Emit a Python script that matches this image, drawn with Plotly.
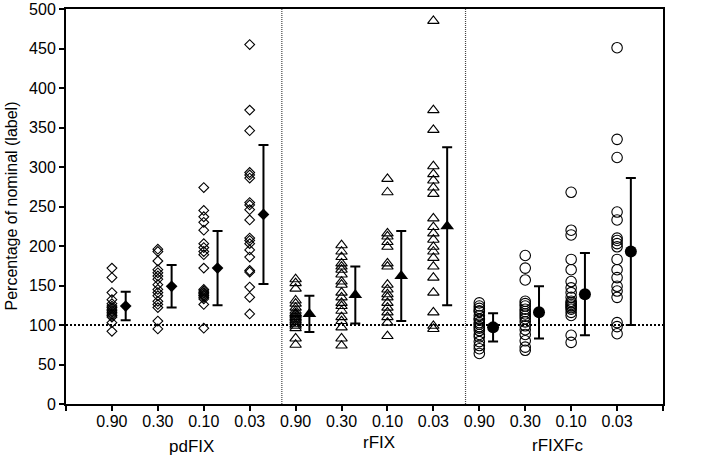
import plotly.graph_objects as go

products = ["pdFIX", "rFIX", "rFIXFc"]
concentrations = ["0.90", "0.30", "0.10", "0.03"]
unit_label = "(IU/mL)"
y_title = "Percentage of nominal (label)"
y_ticks = [0, 50, 100, 150, 200, 250, 300, 350, 400, 450, 500]
nominal = 100

# individual laboratory results (% of nominal), one list per concentration
pdfix_values = [
    [172, 160, 141, 132, 127, 124, 122, 120, 118, 116, 114, 112, 110, 103, 92],
    [196, 193, 181, 170, 166, 162, 158, 151, 145, 141, 137, 130, 126, 122, 105, 95],
    [274, 245, 237, 230, 220, 203, 198, 193, 189, 172, 145, 143, 141, 140, 138, 137, 135, 133, 126, 96],
    [455, 372, 346, 293, 290, 286, 255, 252, 246, 233, 210, 207, 203, 195, 186, 169, 167, 148, 135, 114],
]
rfix_values = [
    [158, 153, 146, 131, 127, 122, 118, 115, 114, 112, 110, 108, 106, 104, 101, 99, 96, 83, 75],
    [201, 193, 186, 178, 174, 170, 164, 155, 151, 141, 135, 128, 124, 118, 110, 105, 97, 83, 74],
    [285, 268, 216, 212, 205, 199, 178, 174, 151, 145, 139, 135, 128, 122, 116, 110, 103, 86],
    [485, 372, 347, 301, 291, 283, 274, 266, 235, 224, 216, 208, 199, 193, 185, 174, 160, 141, 116, 99, 95],
]
rfixfc_values = [
    [128, 124, 121, 118, 117, 112, 108, 107, 103, 101, 98, 96, 93, 88, 85, 79, 74, 70, 64],
    [188, 172, 157, 130, 127, 124, 120, 117, 114, 111, 108, 104, 99, 94, 88, 80, 72, 68],
    [268, 220, 214, 183, 170, 155, 147, 141, 135, 130, 128, 126, 124, 122, 120, 116, 112, 87, 78],
    [451, 335, 312, 243, 233, 210, 207, 203, 199, 183, 170, 160, 149, 143, 135, 103, 98, 89],
]

# mean and SD per concentration
pdfix_mean = [124, 149, 172, 240]
pdfix_sd = [18, 27, 47, 88]
rfix_mean = [114, 138, 162, 225]
rfix_sd = [23, 36, 57, 100]
rfixfc_mean = [97, 116, 139, 193]
rfixfc_sd = [18, 33, 52, 93]

all_values = [pdfix_values, rfix_values, rfixfc_values]
all_means = [pdfix_mean, rfix_mean, rfixfc_mean]
all_sds = [pdfix_sd, rfix_sd, rfixfc_sd]

open_symbols = ["diamond-open", "triangle-up-open", "circle-open"]
filled_symbols = ["diamond", "triangle-up", "circle"]
open_sizes = [7.5, 10, 10.5]
filled_sizes = [9, 12, 12]
mean_offset = 0.3
FONT = "Liberation Sans, Arial, Helvetica, sans-serif"

fig = go.Figure()
n_c = len(concentrations)
for p, prod in enumerate(products):
    for c in range(n_c):
        pos = p * n_c + c + 1
        vals = all_values[p][c]
        fig.add_trace(go.Scatter(
            x=[pos] * len(vals), y=vals, mode="markers",
            marker=dict(symbol=open_symbols[p], size=open_sizes[p], color="black",
                        line=dict(color="#111", width=1.1)),
            showlegend=False, hoverinfo="y"))
    fig.add_trace(go.Scatter(
        x=[p * n_c + c + 1 + mean_offset for c in range(n_c)], y=all_means[p],
        mode="markers",
        marker=dict(symbol=filled_symbols[p], size=filled_sizes[p], color="black"),
        error_y=dict(type="data", array=all_sds[p], visible=True, color="black",
                     thickness=2, width=5),
        showlegend=False))

n_pos = len(products) * n_c
tickvals = list(range(0, n_pos + 2))
ticktext = [""] + [c for _ in products for c in concentrations] + [""]

dividers = [4.70, 8.70]
shapes = [dict(type="line", xref="x", yref="y", x0=0, x1=n_pos + 1, y0=nominal, y1=nominal,
               line=dict(color="black", width=2, dash="2px,2px"), layer="below")]
for d in dividers:
    shapes.append(dict(type="line", xref="x", yref="y", x0=d, x1=d, y0=0, y1=500,
                       line=dict(color="#444", width=1.2, dash="1px,1px"), layer="below"))

group_label_x = [2.74, 6.82, 10.70]
group_label_shift = [-42, -38, -41]
annotations = []
for name, gx, gs in zip(products, group_label_x, group_label_shift):
    annotations.append(dict(text=name, x=gx, xref="x", y=0, yref="paper", yshift=gs,
                            showarrow=False, font=dict(size=17, color="black", family=FONT),
                            xanchor="center", yanchor="middle"))
annotations.append(dict(text=unit_label, x=13.39, xref="x", y=0, yref="paper", yshift=-20,
                        showarrow=False, font=dict(size=16, color="black", family=FONT),
                        xanchor="center", yanchor="middle"))
annotations.append(dict(text=y_title, x=0, xref="paper", xshift=-55, y=0.5, yref="paper",
                        textangle=-90, showarrow=False,
                        font=dict(size=16, color="black", family=FONT),
                        xanchor="center", yanchor="middle"))

fig.update_layout(
    width=709, height=461,
    margin=dict(l=66, r=46, t=9, b=57, autoexpand=False),
    paper_bgcolor="white", plot_bgcolor="white",
    font=dict(family=FONT, size=16, color="black"),
    shapes=shapes, annotations=annotations,
    xaxis=dict(range=[0, n_pos + 1], tickvals=tickvals, ticktext=ticktext,
               showgrid=False, zeroline=False, showline=True, linecolor="black",
               linewidth=2, mirror=True, ticks="outside", ticklen=5, tickwidth=2,
               tickcolor="black", tickfont=dict(size=16), automargin=False,
               ticklabelstandoff=-3),
    yaxis=dict(range=[0, 500], tickvals=y_ticks, showgrid=False, zeroline=False,
               showline=True, linecolor="black", linewidth=2, mirror=True,
               ticks="outside", ticklen=5, tickwidth=2, tickcolor="black",
               tickfont=dict(size=16), automargin=False, ticklabeloverflow="allow"),
)

fig.write_html("out.html", config={"displayModeBar": False},
               post_script="document.body.style.margin='0px';")
